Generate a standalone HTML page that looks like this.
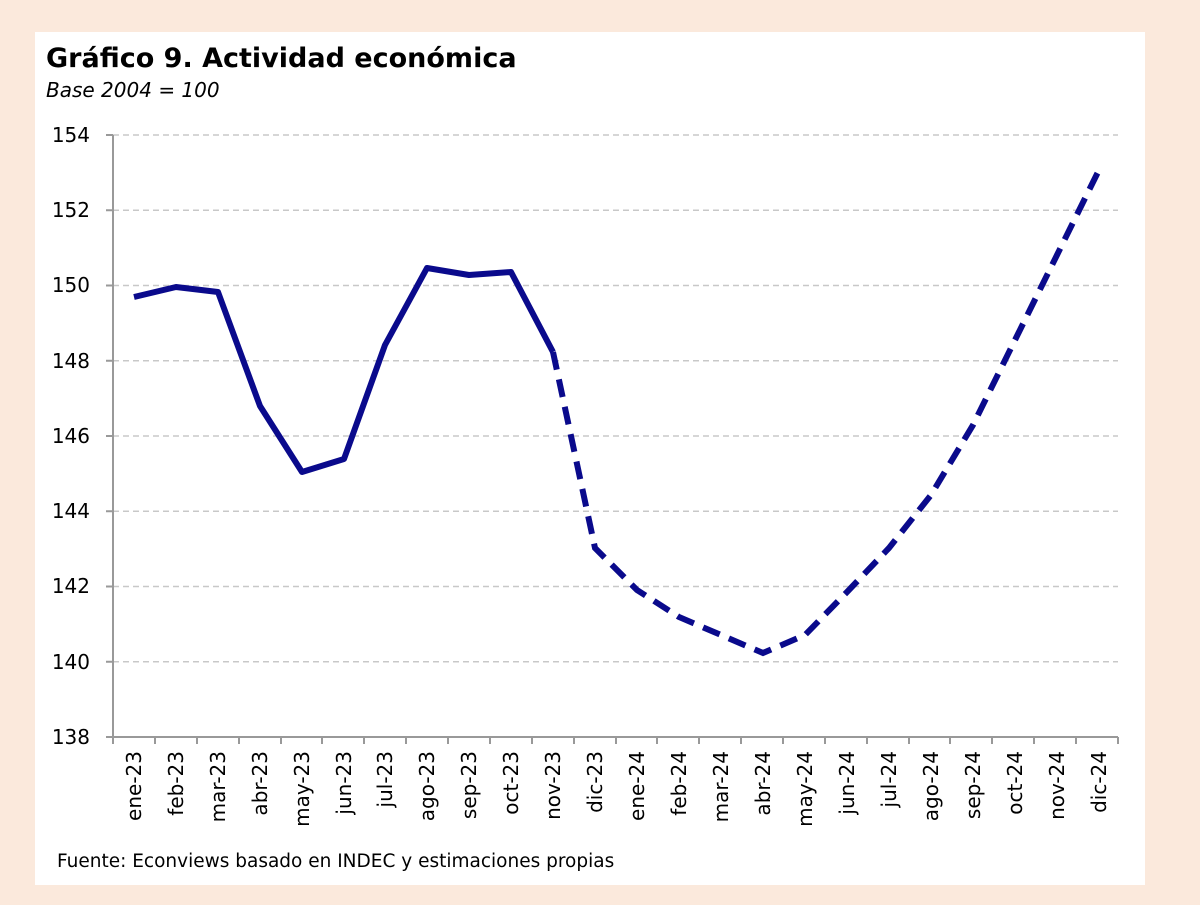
<!DOCTYPE html>
<html><head><meta charset="utf-8"><style>
body{margin:0;width:1200px;height:900px;background:#fbe9dc;overflow:hidden}
</style></head><body>
<svg width="1200" height="900" xmlns="http://www.w3.org/2000/svg" font-family="'DejaVu Sans','Liberation Sans',sans-serif">
<rect x="35" y="32" width="1110" height="853" fill="#fff"/>
<text x="46" y="67" font-size="27" font-weight="bold" fill="#000">Gráfico 9. Actividad económica</text>
<text x="46" y="97" font-size="20" font-style="italic" fill="#000">Base 2004 = 100</text>
<g stroke="#c8c8c8" stroke-width="1.5" stroke-dasharray="6,4">
<line x1="113" y1="135" x2="1118" y2="135"/><line x1="113" y1="210.25" x2="1118" y2="210.25"/>
<line x1="113" y1="285.5" x2="1118" y2="285.5"/><line x1="113" y1="360.75" x2="1118" y2="360.75"/>
<line x1="113" y1="436" x2="1118" y2="436"/><line x1="113" y1="511.25" x2="1118" y2="511.25"/>
<line x1="113" y1="586.5" x2="1118" y2="586.5"/><line x1="113" y1="661.75" x2="1118" y2="661.75"/>
</g>
<g stroke="#999" stroke-width="2" fill="none">
<line x1="113" y1="135" x2="113" y2="744"/><line x1="106" y1="737" x2="1118" y2="737"/>
</g>
<g stroke="#999" stroke-width="2">
<line x1="106" y1="135" x2="113" y2="135"/><line x1="106" y1="210.25" x2="113" y2="210.25"/><line x1="106" y1="285.5" x2="113" y2="285.5"/><line x1="106" y1="360.75" x2="113" y2="360.75"/><line x1="106" y1="436" x2="113" y2="436"/><line x1="106" y1="511.25" x2="113" y2="511.25"/><line x1="106" y1="586.5" x2="113" y2="586.5"/><line x1="106" y1="661.75" x2="113" y2="661.75"/>
<line x1="155" y1="737" x2="155" y2="744"/><line x1="197" y1="737" x2="197" y2="744"/><line x1="239" y1="737" x2="239" y2="744"/><line x1="281" y1="737" x2="281" y2="744"/><line x1="322" y1="737" x2="322" y2="744"/><line x1="364" y1="737" x2="364" y2="744"/><line x1="406" y1="737" x2="406" y2="744"/><line x1="448" y1="737" x2="448" y2="744"/><line x1="490" y1="737" x2="490" y2="744"/><line x1="532" y1="737" x2="532" y2="744"/><line x1="574" y1="737" x2="574" y2="744"/><line x1="616" y1="737" x2="616" y2="744"/><line x1="657" y1="737" x2="657" y2="744"/><line x1="699" y1="737" x2="699" y2="744"/><line x1="741" y1="737" x2="741" y2="744"/><line x1="783" y1="737" x2="783" y2="744"/><line x1="825" y1="737" x2="825" y2="744"/><line x1="867" y1="737" x2="867" y2="744"/><line x1="909" y1="737" x2="909" y2="744"/><line x1="950" y1="737" x2="950" y2="744"/><line x1="992" y1="737" x2="992" y2="744"/><line x1="1034" y1="737" x2="1034" y2="744"/><line x1="1076" y1="737" x2="1076" y2="744"/><line x1="1118" y1="737" x2="1118" y2="744"/>
</g>
<g font-size="20" fill="#000" text-anchor="end">
<text x="90" y="142">154</text><text x="90" y="217">152</text><text x="90" y="292">150</text><text x="90" y="368">148</text><text x="90" y="443">146</text><text x="90" y="518">144</text><text x="90" y="593">142</text><text x="90" y="669">140</text><text x="90" y="744">138</text>
</g>
<g font-size="20" fill="#000" text-anchor="end">
<text transform="translate(141,751) rotate(-90)">ene-23</text>
<text transform="translate(183,751) rotate(-90)">feb-23</text>
<text transform="translate(225,751) rotate(-90)">mar-23</text>
<text transform="translate(267,751) rotate(-90)">abr-23</text>
<text transform="translate(309,751) rotate(-90)">may-23</text>
<text transform="translate(351,751) rotate(-90)">jun-23</text>
<text transform="translate(392,751) rotate(-90)">jul-23</text>
<text transform="translate(434,751) rotate(-90)">ago-23</text>
<text transform="translate(476,751) rotate(-90)">sep-23</text>
<text transform="translate(518,751) rotate(-90)">oct-23</text>
<text transform="translate(560,751) rotate(-90)">nov-23</text>
<text transform="translate(602,751) rotate(-90)">dic-23</text>
<text transform="translate(644,751) rotate(-90)">ene-24</text>
<text transform="translate(686,751) rotate(-90)">feb-24</text>
<text transform="translate(728,751) rotate(-90)">mar-24</text>
<text transform="translate(770,751) rotate(-90)">abr-24</text>
<text transform="translate(812,751) rotate(-90)">may-24</text>
<text transform="translate(854,751) rotate(-90)">jun-24</text>
<text transform="translate(896,751) rotate(-90)">jul-24</text>
<text transform="translate(938,751) rotate(-90)">ago-24</text>
<text transform="translate(980,751) rotate(-90)">sep-24</text>
<text transform="translate(1022,751) rotate(-90)">oct-24</text>
<text transform="translate(1064,751) rotate(-90)">nov-24</text>
<text transform="translate(1106,751) rotate(-90)">dic-24</text>
</g>
<polyline fill="none" stroke="#0a0a8c" stroke-width="6" stroke-linejoin="round" points="134,297 176,287 218,292 260,406 302,472 344,459 385,345 427,268 469,275 511,272 553,352"/>
<polyline fill="none" stroke="#0a0a8c" stroke-width="6" stroke-dasharray="18,10" points="553,352 595,548 637,590 679,617 721,635 763,653 805,635 847,592 889,548 931,495 973,425 1015,340 1057,255 1099,170"/>
<text x="57" y="867" font-size="18.5" fill="#000">Fuente: Econviews basado en INDEC y estimaciones propias</text>
</svg>
</body></html>
